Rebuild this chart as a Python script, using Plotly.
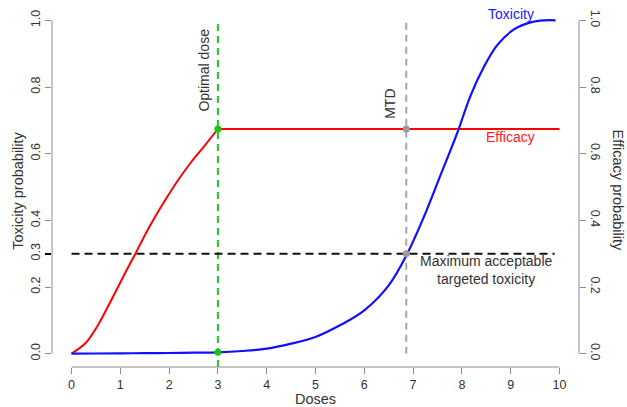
import plotly.graph_objects as go

# ---- data ----
eff_dose = [0, 0.29, 0.56, 0.83, 1.11, 1.31, 1.52, 1.72, 1.93, 2.2, 2.47, 2.75, 3.0, 10]
eff_prob = [0, 0.032, 0.09, 0.165, 0.245, 0.30, 0.36, 0.412, 0.463, 0.524, 0.578, 0.628, 0.674, 0.674]

tox_dose = [0, 0.5, 1, 1.5, 2, 2.5, 3, 3.5, 4, 4.5, 5, 5.5, 6, 6.5, 6.88, 7.22, 7.56, 7.9,
            8.18, 8.45, 8.72, 9.06, 9.41, 9.7, 9.92]
tox_prob = [0, 0.0005, 0.001, 0.0015, 0.002, 0.003, 0.004, 0.008, 0.015, 0.03, 0.05, 0.085,
            0.13, 0.205, 0.30, 0.41, 0.535, 0.66, 0.775, 0.86, 0.925, 0.972, 0.994, 1.0, 1.0]

optimal_dose = 3.0
mtd = 6.86
target_tox = 0.3
target_end = 9.9
eff_at_opt = 0.674
tox_at_opt = 0.004

x_ticks = list(range(0, 11))
y_left_ticks = [0.0, 0.2, 0.4, 0.6, 0.8, 1.0]
y_right_ticks = [0.0, 0.2, 0.4, 0.6, 0.8, 1.0]

FONT = "Liberation Sans, Arial, sans-serif"
AXC = "#8c8c8c"
TXT = "#333333"

fig = go.Figure()

# reference lines
fig.add_trace(go.Scatter(x=[optimal_dose, optimal_dose], y=[-0.04, 1.0], mode="lines",
                         line=dict(color="#1ec81e", width=2, dash="7px,5px"),
                         hoverinfo="skip", showlegend=False))
fig.add_trace(go.Scatter(x=[mtd, mtd], y=[0, 1.0], mode="lines",
                         line=dict(color="#a6a6a6", width=2, dash="7px,5px"),
                         hoverinfo="skip", showlegend=False))
fig.add_trace(go.Scatter(x=[0, target_end], y=[target_tox, target_tox], mode="lines",
                         line=dict(color="#111111", width=2, dash="8px,5px"),
                         hoverinfo="skip", showlegend=False))

# curves
n_rise = eff_dose.index(optimal_dose) + 1
fig.add_trace(go.Scatter(x=eff_dose[:n_rise], y=eff_prob[:n_rise], mode="lines",
                         line=dict(color="#ff0000", width=2, shape="spline", smoothing=0.8),
                         showlegend=False))
fig.add_trace(go.Scatter(x=eff_dose[n_rise - 1:], y=eff_prob[n_rise - 1:], mode="lines",
                         line=dict(color="#ff0000", width=2), showlegend=False))
fig.add_trace(go.Scatter(x=tox_dose, y=tox_prob, mode="lines",
                         line=dict(color="#1010ff", width=2.2, shape="spline", smoothing=1.0),
                         showlegend=False))

# points
fig.add_trace(go.Scatter(x=[optimal_dose, optimal_dose], y=[eff_at_opt, tox_at_opt], mode="markers",
                         marker=dict(color="#10c810", size=7), showlegend=False, cliponaxis=False))
fig.add_trace(go.Scatter(x=[mtd, mtd], y=[eff_at_opt, target_tox], mode="markers",
                         marker=dict(color="#9a9a9a", size=7), showlegend=False, cliponaxis=False))

# axis lines (R-style detached axes)
fig.add_shape(type="line", xref="x", yref="paper", x0=0, x1=10, y0=0, y1=0,
              line=dict(color=AXC, width=1))
fig.add_shape(type="line", xref="paper", yref="y", x0=0, x1=0, y0=0, y1=1,
              line=dict(color=AXC, width=1))
fig.add_shape(type="line", xref="paper", yref="y", x0=1, x1=1, y0=0, y1=1,
              line=dict(color=AXC, width=1))

# text labels
fig.add_annotation(x=2.72, y=0.85, text="Optimal dose", textangle=-90, showarrow=False,
                   font=dict(size=14, color=TXT, family=FONT))
fig.add_annotation(x=6.53, y=0.75, text="MTD", textangle=-90, showarrow=False,
                   font=dict(size=14, color=TXT, family=FONT))
fig.add_annotation(x=9.0, y=1.02, text="Toxicity", showarrow=False,
                   font=dict(size=14, color="#2020ff", family=FONT))
fig.add_annotation(x=9.0, y=0.65, text="Efficacy", showarrow=False,
                   font=dict(size=14, color="#ff2020", family=FONT))
fig.add_annotation(x=8.5, y=0.25, text="Maximum acceptable<br>targeted toxicity", showarrow=False,
                   font=dict(size=14, color=TXT, family=FONT))

# axis titles
fig.add_annotation(xref="paper", yref="paper", x=-0.066, y=0.49, text="Toxicity probability",
                   xanchor="center", yanchor="middle",
                   textangle=-90, showarrow=False, font=dict(size=14.5, color=TXT, family=FONT))
fig.add_annotation(xref="paper", yref="paper", x=1.074, y=0.49, text="Efficacy probability",
                   xanchor="center", yanchor="middle",
                   textangle=90, showarrow=False, font=dict(size=14.5, color=TXT, family=FONT))
fig.add_annotation(xref="x", yref="paper", x=5, y=-0.088, text="Doses",
                   xanchor="center", yanchor="middle",
                   showarrow=False, font=dict(size=14.5, color=TXT, family=FONT))

fig.update_layout(
    width=627, height=407,
    margin=dict(l=52, r=48, t=7, b=40),
    paper_bgcolor="white", plot_bgcolor="white",
    font=dict(family=FONT, color=TXT, size=12),
    xaxis=dict(range=[-0.4, 10.4], tickvals=x_ticks, ticks="outside", ticklen=6,
               tickcolor=AXC, showline=False, showgrid=False, zeroline=False,
               tickfont=dict(size=12.5, color=TXT)),
    yaxis=dict(range=[-0.04, 1.04], tickvals=y_left_ticks,
               ticktext=[f"{v:.1f}" for v in y_left_ticks], tickangle=-90,
               ticks="outside", ticklen=6, tickcolor=AXC, showline=False, showgrid=False,
               zeroline=False, tickfont=dict(size=12.5, color=TXT)),
    yaxis2=dict(range=[-0.04, 1.04], overlaying="y", side="right", tickvals=y_right_ticks,
                ticktext=[f"{v:.1f}" for v in y_right_ticks], tickangle=90,
                ticks="outside", ticklen=6, tickcolor=AXC, showline=False, showgrid=False,
                zeroline=False, tickfont=dict(size=12.5, color=TXT)),
    yaxis3=dict(range=[-0.04, 1.04], overlaying="y", side="left", tickvals=[target_tox],
                ticktext=["0.3"], tickangle=-90, ticks="outside", ticklen=6,
                tickcolor="#000000", tickwidth=2, showline=False, showgrid=False,
                zeroline=False, tickfont=dict(size=12.5, color=TXT)),
)

# dummy traces to activate the overlay axes
fig.add_trace(go.Scatter(x=[None], y=[None], yaxis="y2", showlegend=False))
fig.add_trace(go.Scatter(x=[None], y=[None], yaxis="y3", showlegend=False))

fig.write_html("out.html")
